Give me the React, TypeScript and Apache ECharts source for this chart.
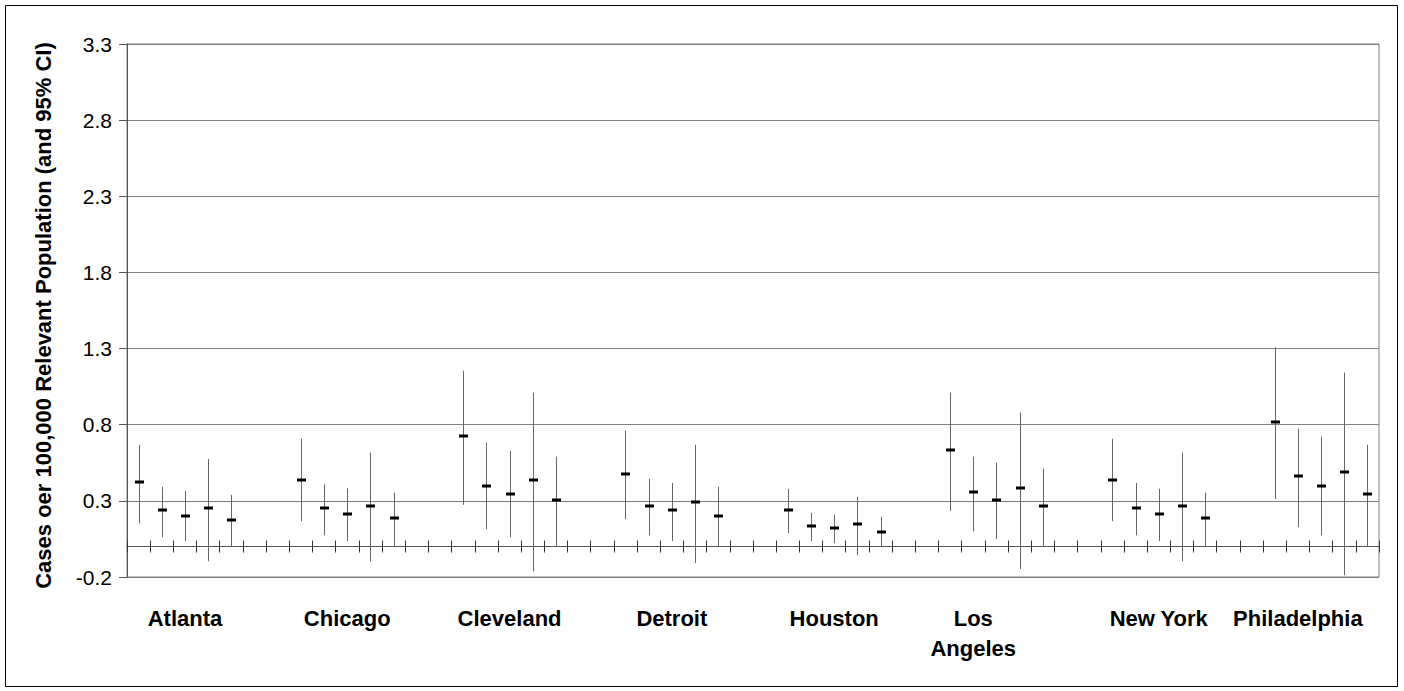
import React, { useEffect, useRef } from "react";
import * as echarts from "echarts";

// City groups along the category axis
const cities = ["Atlanta", "Chicago", "Cleveland", "Detroit", "Houston", "Los\nAngeles", "New York", "Philadelphia"];
// category slot under which each city's name is printed
const labelSlots = [2, 9, 16, 23, 30, 36, 44, 50];
const slotsPerCity = 7;
const pointsPerCity = 5;
const totalSlots = 54;

// Rates (cases per 100,000), five estimates per city
const means = [
  0.425, 0.241, 0.201, 0.254, 0.175, // Atlanta
  0.438, 0.254, 0.215, 0.267, 0.188, // Chicago
  0.728, 0.399, 0.346, 0.438, 0.307, // Cleveland
  0.478, 0.267, 0.241, 0.293, 0.201, // Detroit
  0.241, 0.136, 0.122, 0.149, 0.096, // Houston
  0.636, 0.359, 0.307, 0.386, 0.267, // Los Angeles
  0.438, 0.254, 0.215, 0.267, 0.188, // New York
  0.82, 0.464, 0.399, 0.491, 0.346, // Philadelphia
];
// Lower 95% CI bounds
const lowers = [
  0.153, 0.061, 0.035, -0.097, 0,
  0.166, 0.074, 0.035, -0.097, 0,
  0.274, 0.114, 0.061, -0.162, 0,
  0.18, 0.074, 0.035, -0.108, 0,
  0.088, 0.035, 0.022, -0.057, 0,
  0.234, 0.101, 0.048, -0.147, 0,
  0.166, 0.074, 0.035, -0.095, 0,
  0.311, 0.127, 0.074, -0.187, 0,
];
// Upper 95% CI bounds
const uppers = [
  0.668, 0.392, 0.366, 0.576, 0.34,
  0.708, 0.408, 0.382, 0.616, 0.353,
  1.155, 0.682, 0.629, 1.011, 0.59,
  0.761, 0.445, 0.418, 0.668, 0.392,
  0.379, 0.221, 0.208, 0.326, 0.195,
  1.011, 0.59, 0.55, 0.879, 0.511,
  0.708, 0.418, 0.379, 0.616, 0.353,
  1.309, 0.774, 0.721, 1.142, 0.668,
];

const yMin = -0.2;
const yMax = 3.3;
const yStep = 0.5;

const FONT = 'Arial, "Liberation Sans", sans-serif';

export default function App() {
  const ref = useRef<HTMLDivElement>(null);

  useEffect(() => {
    if (!ref.current) return;
    const chart = echarts.init(ref.current, null, { renderer: "svg" });

    const categories = Array.from({ length: totalSlots }, (_, i) => "slot" + i);
    const labelFor = (idx: number) => {
      const k = labelSlots.indexOf(idx);
      return k >= 0 ? cities[k] : "";
    };

    const data = means.map((m, i) => {
      const city = Math.floor(i / pointsPerCity);
      const k = i % pointsPerCity;
      return [city * slotsPerCity + k, m, lowers[i], uppers[i]];
    });

    const gridBox = { left: 127, right: 25, top: 44, bottom: 114 };

    const zeroAxis = (gridIndex: number, inside: boolean) => ({
      type: "category",
      gridIndex,
      data: categories,
      position: "bottom",
      boundaryGap: true,
      axisLine: { show: true, onZero: true, lineStyle: { color: "#555", width: 1 } },
      axisTick: {
        show: true,
        inside,
        interval: 0,
        alignWithLabel: false,
        length: 6,
        lineStyle: { color: "#333", width: 1 },
      },
      axisLabel: { show: false },
      splitLine: { show: false },
    });

    chart.setOption({
      animation: false,
      backgroundColor: "#fff",
      grid: [
        {
          ...gridBox,
          show: true,
          borderColor: "#808080",
          borderWidth: 1,
          backgroundColor: "transparent",
        },
        { ...gridBox, show: false },
        { ...gridBox, show: false },
      ],
      xAxis: [
        {
          type: "category",
          gridIndex: 0,
          data: categories,
          position: "bottom",
          boundaryGap: true,
          axisLine: { show: false, onZero: false },
          axisTick: { show: false },
          axisLabel: {
            interval: 0,
            margin: 26,
            formatter: (_v: string, idx: number) => labelFor(idx),
            color: "#000",
            fontFamily: FONT,
            fontSize: 22,
            fontWeight: "bold",
            lineHeight: 30,
          },
          splitLine: { show: false },
        },
        zeroAxis(1, false),
        zeroAxis(2, true),
      ],
      yAxis: [
        {
          type: "value",
          gridIndex: 0,
          min: yMin,
          max: yMax,
          interval: yStep,
          name: "Cases oer 100,000 Relevant Population (and 95% CI)",
          nameLocation: "middle",
          nameGap: 73,
          nameTextStyle: {
            color: "#000",
            fontFamily: FONT,
            fontSize: 22,
            fontWeight: "bold",
            padding: [0, 10, 0, 0],
          },
          axisLine: { show: true, lineStyle: { color: "#555", width: 1 } },
          axisTick: { show: true, length: 8, lineStyle: { color: "#555" } },
          axisLabel: {
            margin: 15,
            color: "#000",
            fontFamily: FONT,
            fontSize: 21,
            formatter: (v: number) => v.toFixed(1),
          },
          splitLine: { show: true, lineStyle: { color: "#808080", width: 1 } },
        },
        {
          type: "value",
          gridIndex: 1,
          min: yMin,
          max: yMax,
          interval: yStep,
          show: false,
          splitLine: { show: false },
        },
        {
          type: "value",
          gridIndex: 2,
          min: yMin,
          max: yMax,
          interval: yStep,
          show: false,
          splitLine: { show: false },
        },
      ],
      graphic: [
        {
          type: "rect",
          left: 5,
          top: 5,
          shape: { width: 1392, height: 681 },
          style: { fill: "transparent", stroke: "#000", lineWidth: 1 },
          silent: true,
        },
      ],
      series: [
        {
          type: "custom",
          xAxisIndex: 0,
          yAxisIndex: 0,
          encode: { x: 0, y: [1, 2, 3] },
          data,
          z: 5,
          renderItem: (_params: any, api: any) => {
            const x = api.value(0);
            const c = api.coord([x, api.value(1)]);
            const lo = api.coord([x, api.value(2)]);
            const hi = api.coord([x, api.value(3)]);
            const cx = Math.round(c[0]) + 0.5;
            return {
              type: "group",
              children: [
                {
                  type: "line",
                  shape: { x1: cx, y1: hi[1], x2: cx, y2: lo[1] },
                  style: { stroke: "#666", lineWidth: 1 },
                },
                {
                  type: "rect",
                  shape: { x: cx - 4.5, y: Math.round(c[1]) - 1.5, width: 9, height: 3 },
                  style: { fill: "#000" },
                },
              ],
            };
          },
        },
      ],
    });

    return () => chart.dispose();
  }, []);

  return (
    <div
      ref={ref}
      style={{ position: "fixed", left: 0, top: 0, width: 1404, height: 691, background: "#fff" }}
    />
  );
}
